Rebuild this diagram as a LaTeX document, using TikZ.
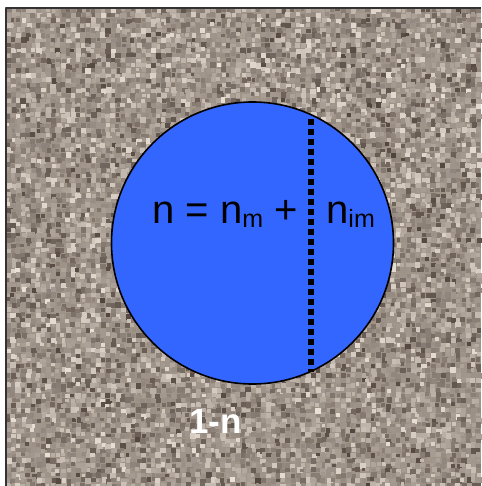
\documentclass[tikz,border=0pt]{standalone}
\usepackage{fontspec}
\setmainfont{Liberation Sans}
\definecolor{poreblue}{RGB}{51,102,255}
\definecolor{graindark}{RGB}{78,66,58}
\definecolor{grainlight}{RGB}{236,226,215}
\definecolor{grainbase}{RGB}{160,148,137}
\tikzset{
  grain/.style={fill=graindark!#1!grainlight},
  eqtext/.style={inner sep=0pt, anchor=base west, font=\fontsize{40}{46}\selectfont},
}
\newcommand{\subtxt}[1]{\raisebox{-4pt}{\fontsize{25}{25}\selectfont #1}}
\begin{document}
\begin{tikzpicture}[x=1pt, y=-1pt, line cap=butt, line join=round]

  \useasboundingbox (0,0) rectangle (481,486);

  \coordinate (C) at (252.5,243);
  \coordinate (T) at (311,119);
  \coordinate (B) at (311,372);

  \fill[grainbase] (6,8) rectangle (481,486);
  \pgfmathsetseed{4711}
  \foreach \i in {0,...,94}{
    \foreach \j in {0,...,95}{
      \pgfmathsetmacro{\gx}{6+5*\i+2*rnd-1}
      \pgfmathsetmacro{\gy}{8+5*\j+2*rnd-1}
      \pgfmathsetmacro{\gs}{50*(rnd+rnd)}
      \pgfmathsetmacro{\gr}{3.5+2.5*rnd}
      \fill[grain=\gs] (\gx,\gy) rectangle ++(\gr,\gr);
    }
  }
  \draw[line width=1.2pt, black!80] (6,486) -- (6,8) -- (481,8);

  \filldraw[fill=poreblue, draw=black, line width=1.6pt] (C) circle (141);

  \draw[line width=6pt, dash pattern=on 6pt off 4pt] (T) -- (B);

  \node[eqtext] (total) at (152,223) {n = n\subtxt{m} +};
  \node[eqtext] (immob) at (326,223) {n\subtxt{im}};
  \node[inner sep=0pt, anchor=base west, text=white,
        font=\fontsize{35}{40}\selectfont\bfseries] (matrix) at (189,433) {1-n};

\end{tikzpicture}
\end{document}
